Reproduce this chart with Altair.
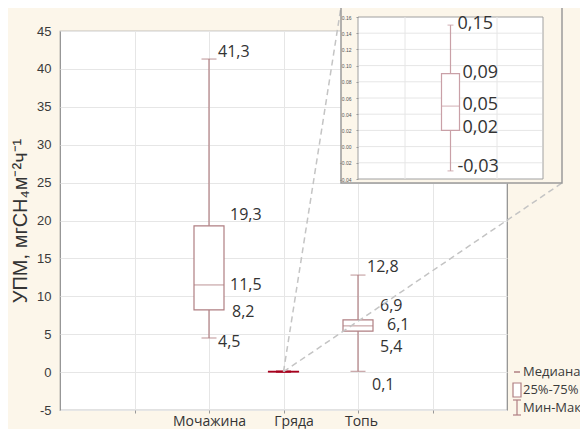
import altair as alt
import pandas as pd

# ---------------- data ----------------
categories = ["Мочажина", "Гряда", "Топь"]
mins = [4.5, -0.03, 0.1]
q1s = [8.2, 0.02, 5.4]
medians = [11.5, 0.05, 6.1]
q3s = [19.3, 0.09, 6.9]
maxs = [41.3, 0.15, 12.8]

y_ticks = [-5, 0, 5, 10, 15, 20, 25, 30, 35, 40, 45]
inset_ticks = [-0.04, -0.02, 0.0, 0.02, 0.04, 0.06, 0.08, 0.10, 0.12, 0.14, 0.16]

moch_labels = ["41,3", "19,3", "11,5", "8,2", "4,5"]
moch_label_vals = [41.3, 19.3, 11.5, 8.2, 4.5]
top_labels = ["12,8", "6,9", "6,1", "5,4", "0,1"]
top_label_vals = [12.8, 6.9, 6.1, 5.4, 0.1]
inset_labels = ["0,15", "0,09", "0,05", "0,02", "-0,03"]
inset_label_vals = [0.15, 0.09, 0.05, 0.02, -0.03]

legend_labels = ["Медиана", "25%-75%", "Мин-Макс"]
y_title = "УПМ, мгСН₄м⁻²ч⁻¹"

# ---------------- styling / layout ----------------
BG = "#fcf6ea"
BOX = "#b07f82"
GR = "#a8001e"
INSET_BOX = "#c9a0a7"
GRID = "#e6e6e6"
TXT = "#333333"
FONT = "Open Sans"
box_colors = [BOX, GR, BOX]

moch_dx = [9, 21, 21, 23, 9]
moch_dy = [-7, -11, 0, 2, 4]
top_dx = [9, 22, 29, 22, 14]
top_dy = [-8, -14, -1, 16, 14]
inset_dx = [7, 12, 12, 12, 7]
inset_dy = [-1, -1, -1, -2, -4]

W, H = 447, 379

df = pd.DataFrame({"cat": categories, "mn": mins, "q1": q1s, "med": medians,
                   "q3": q3s, "mx": maxs, "col": box_colors})

xdomain = [" "] + categories + ["  "]
xscale = alt.Scale(type="point", domain=xdomain, padding=1)
yscale = alt.Scale(domain=[-5, 45], nice=False, zero=False)

xaxis = alt.Axis(title=None, grid=True, gridColor=GRID, domain=False, ticks=True, tickSize=3,
                 tickColor="#999", labelFont=FONT, labelFontSize=14, labelColor=TXT,
                 labelPadding=1, labelAngle=0, labelOverlap=False,
                 labelOffset={"expr": "datum.label == 'Гряда' ? 10 : (datum.label == 'Топь' ? 3 : 0)"})
yaxis = alt.Axis(title=y_title, values=y_ticks, tickCount=len(y_ticks), grid=True,
                 gridColor=GRID, domain=False, labelExpr="replace(datum.label, '\u2212', '-')",
                 ticks=False, labelPadding=9, labelFont="Liberation Sans", labelFontSize=13,
                 labelColor="#3a3a3a", labelOverlap=False, titleFont="Liberation Sans",
                 titleFontSize=20, titleFontWeight="normal", titleColor=TXT, titlePadding=6)

base = alt.Chart(df).encode(x=alt.X("cat:N", scale=xscale, axis=xaxis))

whisk = base.mark_rule(strokeWidth=1.2).encode(
    y=alt.Y("mn:Q", scale=yscale, axis=yaxis), y2="mx:Q",
    color=alt.Color("col:N", scale=None))
cap_lo = base.mark_tick(orient="horizontal", size=15, thickness=1.2).encode(
    y="mn:Q", color=alt.Color("col:N", scale=None))
cap_hi = base.mark_tick(orient="horizontal", size=15, thickness=1.2).encode(
    y="mx:Q", color=alt.Color("col:N", scale=None))
box = base.mark_bar(size=30, fill="white", strokeWidth=1.2).encode(
    y="q1:Q", y2="q3:Q", stroke=alt.Stroke("col:N", scale=None))
med = base.mark_tick(orient="horizontal", size=30, thickness=1.2).encode(
    y="med:Q", color=alt.Color("col:N", scale=None))

main_layers = [whisk, box, cap_lo, cap_hi, med]

def label_layers(cat, labels, vals, dxs, dys, xenc, yname_scale, size):
    out = []
    for lab, v, dx, dy in zip(labels, vals, dxs, dys):
        d = pd.DataFrame({"cat": [cat], "v": [v], "t": [lab]})
        out.append(alt.Chart(d).mark_text(align="left", baseline="middle", dx=dx, dy=dy,
                                          font=FONT, fontSize=size, color=TXT).encode(
            x=xenc, y=alt.Y("v:Q", scale=yname_scale), text="t:N"))
    return out

xenc_main = alt.X("cat:N", scale=xscale)
main_layers += label_layers("Мочажина", moch_labels, moch_label_vals, moch_dx, moch_dy,
                            xenc_main, yscale, 16)
main_layers += label_layers("Топь", top_labels, top_label_vals, top_dx, top_dy,
                            xenc_main, yscale, 16)

gr_base = base.transform_filter(alt.datum.cat == "Гряда")
dash1 = gr_base.mark_rule(strokeDash=[6, 4], color="#c4c4c4", strokeWidth=1.5).encode(
    y=alt.Y("med:Q", scale=yscale), x2=alt.value(281), y2=alt.value(-24))
dash2 = gr_base.mark_rule(strokeDash=[6, 4], color="#c4c4c4", strokeWidth=1.5).encode(
    y=alt.Y("med:Q", scale=yscale), x2=alt.value(502), y2=alt.value(152))
main_layers += [dash1, dash2]

main = alt.layer(*main_layers)

# ---------------- inset ----------------
gdf = df[df.cat == "Гряда"]
ixscale = alt.Scale(type="point", domain=["Гряда"], range=[298, 483], padding=0.5)
iyscale = alt.Scale(domain=[-0.04, 0.16], range=[148, -14], nice=False, zero=False)
iyaxis = alt.Axis(title=None, orient="left", offset=-298, values=inset_ticks,
                  tickCount=len(inset_ticks), format=".2f",
                  labelExpr="replace(datum.label, '\u2212', '-')",
                  grid=False, domain=False, ticks=True, tickSize=2, tickColor="#999",
                  labelFont="Liberation Sans", labelFontSize=5, labelColor="#555",
                  labelPadding=5, labelOverlap=False, zindex=1)

one = pd.DataFrame({"a": [0]})
frame = alt.Chart(one).mark_rect(fill=BG, stroke="#9a9a9a", strokeWidth=1.5).encode(
    x=alt.value(281), x2=alt.value(502), y=alt.value(-24), y2=alt.value(152))
parea = alt.Chart(one).mark_rect(fill="white", stroke="#a0a0a0", strokeWidth=1).encode(
    x=alt.value(298), x2=alt.value(483),
    y=alt.Y(datum=-0.04, scale=iyscale, axis=iyaxis), y2=alt.datum(0.16))
igrid = alt.Chart(pd.DataFrame({"t": inset_ticks[1:-1]})).mark_rule(
    color=GRID, strokeWidth=1).encode(
    y=alt.Y("t:Q", scale=iyscale), x=alt.value(299), x2=alt.value(482))
ivgrid = alt.Chart(pd.DataFrame({"p": [345, 437]})).mark_rule(
    color=GRID, strokeWidth=1).encode(
    x=alt.X("p:Q", scale=None), y=alt.Y(datum=-0.04, scale=iyscale), y2=alt.datum(0.16))

ixenc = alt.X("cat:N", scale=ixscale, axis=None)
ibase = alt.Chart(gdf).encode(x=ixenc)
iwhisk = ibase.mark_rule(strokeWidth=1.2, color=INSET_BOX).encode(
    y=alt.Y("mn:Q", scale=iyscale), y2="mx:Q")
icap_lo = ibase.mark_tick(orient="horizontal", size=6, thickness=1.2, color=INSET_BOX).encode(
    y="mn:Q")
icap_hi = ibase.mark_tick(orient="horizontal", size=6, thickness=1.2, color=INSET_BOX).encode(
    y="mx:Q")
ibox = ibase.mark_bar(size=18, fill="white", stroke=INSET_BOX, strokeWidth=1.2).encode(
    y="q1:Q", y2="q3:Q")
imed = ibase.mark_tick(orient="horizontal", size=18, thickness=1.2, color=INSET_BOX).encode(
    y="med:Q")

inset_layers = [frame, parea, igrid, ivgrid, iwhisk, ibox, icap_lo, icap_hi, imed]
inset_layers += label_layers("Гряда", inset_labels, inset_label_vals, inset_dx, inset_dy,
                             ixenc, iyscale, 18)
inset = alt.layer(*inset_layers)

# ---------------- legend ----------------
leg_y = [341, 359, 377]
leg_layers = []
for lab, yy in zip(legend_labels, leg_y):
    leg_layers.append(alt.Chart(one).mark_text(align="left", baseline="middle", font=FONT,
                                               fontSize=13, color="#3a3a3a").encode(
        x=alt.value(463), y=alt.value(yy), text=alt.value(lab)))
leg_layers.append(alt.Chart(one).mark_rule(color=BOX, strokeWidth=1.5).encode(
    x=alt.value(454), x2=alt.value(460), y=alt.value(341), y2=alt.value(341)))
leg_layers.append(alt.Chart(one).mark_rect(fill="white", stroke=BOX, strokeWidth=1.2).encode(
    x=alt.value(453), x2=alt.value(461), y=alt.value(352), y2=alt.value(366)))
leg_layers.append(alt.Chart(one).mark_rule(color=BOX, strokeWidth=1.2).encode(
    x=alt.value(457), x2=alt.value(457), y=alt.value(369), y2=alt.value(384)))
leg_layers.append(alt.Chart(one).mark_rule(color=BOX, strokeWidth=1.2).encode(
    x=alt.value(453), x2=alt.value(461), y=alt.value(369), y2=alt.value(369)))
leg_layers.append(alt.Chart(one).mark_rule(color=BOX, strokeWidth=1.2).encode(
    x=alt.value(453), x2=alt.value(461), y=alt.value(384), y2=alt.value(384)))
legend = alt.layer(*leg_layers)

chart = alt.layer(main, inset, legend).resolve_scale(
    x="independent", y="independent"
).properties(
    width=W, height=H,
    autosize=alt.AutoSizeParams(type="none"),
    padding={"left": 52, "top": 23, "right": 73, "bottom": 19},
    background=BG,
).configure_view(fill="white", stroke="#8c8c8c", strokeWidth=1.2)

chart.save("out.html", embed_options={"renderer": "svg", "actions": False})
